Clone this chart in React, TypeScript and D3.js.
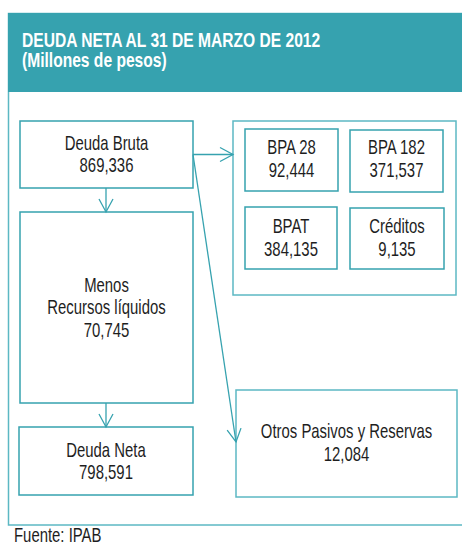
import React from "react";
import * as d3 from "d3";

// ---- data ----
const titleLines = ["DEUDA NETA AL 31 DE MARZO DE 2012", "(Millones de pesos)"];
const boxNames = ["Deuda Bruta", "Menos|Recursos líquidos", "Deuda Neta", "BPA 28", "BPA 182", "BPAT", "Créditos", "Otros Pasivos y Reservas"];
const boxValues = [869336, 70745, 798591, 92444, 371537, 384135, 9135, 12084];
const sourceText = "Fuente: IPAB";

// ---- layout (positions only) ----
const W = 462, H = 545;
const boxRects = [
  { x: 20, y: 121, w: 173, h: 67, b: 149.5 },
  { x: 20, y: 212, w: 173, h: 191, b: 291.7 },
  { x: 19, y: 427, w: 174, h: 68, b: 456.8 },
  { x: 245, y: 129, w: 93, h: 62, b: 154.3 },
  { x: 350, y: 130, w: 93, h: 62, b: 154.3 },
  { x: 245, y: 207, w: 92, h: 62, b: 233 },
  { x: 350, y: 208, w: 94, h: 61, b: 233 },
  { x: 236, y: 390, w: 221, h: 107, b: 438.3 },
];
const groupRect = { x: 233, y: 121, w: 223, h: 174 };

const FONT = "'Liberation Sans', Arial, sans-serif";
const TEAL = "#36a2af";
const LIGHT = "#5cb8c3";
const fmt = d3.format(",");

const arrowHead = (x1: number, y1: number, x2: number, y2: number, len = 13, half = 7) => {
  const a = Math.atan2(y2 - y1, x2 - x1);
  const ux = Math.cos(a), uy = Math.sin(a);
  const bx = x2 - ux * len, by = y2 - uy * len;
  const p = d3.path();
  p.moveTo(bx - uy * half, by + ux * half);
  p.lineTo(x2, y2);
  p.lineTo(bx + uy * half, by - ux * half);
  return p.toString();
};

const arrows = [
  { x1: 193, y1: 154.5, x2: 233, y2: 154.5 },
  { x1: 193, y1: 154.5, x2: 236, y2: 442 },
  { x1: 106, y1: 188, x2: 106, y2: 212 },
  { x1: 106, y1: 403, x2: 106, y2: 427 },
];

const NText = ({ x, y, children, anchor = "start", size = 20, sx = 0.745, weight = "normal", fill = "#1e1e1e" }: any) => (
  <text
    transform={`translate(${x},${y}) scale(${sx},1)`}
    textAnchor={anchor}
    fontSize={size}
    fontWeight={weight}
    fill={fill}
  >
    {children}
  </text>
);

export default function App() {
  const lh = 22.6;
  return (
    <svg width={W} height={H} style={{ position: "absolute", left: 0, top: 0, background: "#fff" }} fontFamily={FONT}>
      {/* outer frame */}
      <rect x={8.5} y={13.5} width={470} height={511.5} fill="none" stroke={LIGHT} strokeWidth={1.5} />
      <rect x={8} y={13} width={470} height={79} fill={TEAL} />
      {titleLines.map((t, i) => (
        <NText key={t} x={22} y={46.8 + i * 20} fill="#fff" weight="bold" size={19.5} sx={0.8}>
          {t}
        </NText>
      ))}
      {/* group box */}
      <rect x={groupRect.x} y={groupRect.y} width={groupRect.w} height={groupRect.h} fill="none" stroke={LIGHT} strokeWidth={1.5} />
      {boxRects.map((r, i) => {
        const lines = [...boxNames[i].split("|"), fmt(boxValues[i])];
        return (
          <g key={i}>
            <rect x={r.x} y={r.y} width={r.w} height={r.h} fill="#fff" stroke={i === 7 ? LIGHT : TEAL} strokeWidth={1.5} />
            {lines.map((t, j) => (
              <NText key={j} x={r.x + r.w / 2} y={r.b + j * lh} anchor="middle">
                {t}
              </NText>
            ))}
          </g>
        );
      })}
      {arrows.map((a, i) => (
        <g key={i} fill="none" stroke={TEAL} strokeWidth={1.3}>
          <line x1={a.x1} y1={a.y1} x2={a.x2} y2={a.y2} />
          <path d={arrowHead(a.x1, a.y1, a.x2, a.y2)} />
        </g>
      ))}
      <NText x={14} y={541.5}>{sourceText}</NText>
    </svg>
  );
}
